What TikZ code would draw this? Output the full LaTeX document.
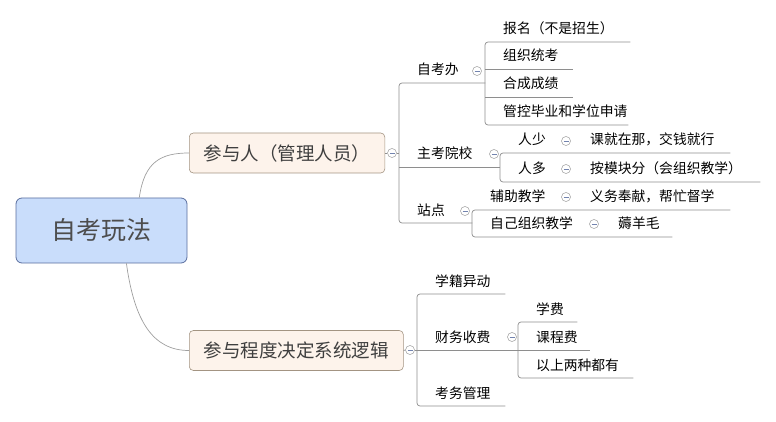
\documentclass[tikz,border=0pt]{standalone}
\usepackage{fontspec}
\setmainfont{Noto Sans CJK SC}
\usetikzlibrary{calc}
\definecolor{rootfill}{HTML}{C9DDFB}
\definecolor{rootline}{HTML}{5A6E9E}
\definecolor{roottext}{HTML}{4D4D4D}
\definecolor{mainfill}{HTML}{FDF3EB}
\definecolor{mainline}{HTML}{A39482}
\definecolor{maintext}{HTML}{3F3F3F}
\definecolor{lncol}{HTML}{8E8E8E}
\definecolor{foldcol}{HTML}{9C9C9C}
\definecolor{foldbar}{HTML}{7283AE}
\tikzset{
  root/.style ={draw=rootline,fill=rootfill,rounded corners=6pt,line width=0.8pt,
                minimum width=171pt,minimum height=65pt,text=roottext,
                font=\fontsize{25}{30}\selectfont},
  main/.style ={draw=mainline,fill=mainfill,rounded corners=4pt,line width=0.6pt,
                anchor=west,minimum height=40pt,inner xsep=14.5pt,text=maintext,
                font=\fontsize{18.5}{22}\selectfont},
  tp/.style   ={anchor=south west,inner sep=0pt,text height=12pt,text depth=7.8pt,
                font=\fontsize{13.8}{16}\selectfont},
  ln/.style   ={draw=lncol,line width=0.7pt,rounded corners=3pt},
  cv/.style   ={draw=lncol!85,line width=0.7pt},
  fold/.style ={circle,draw=foldcol,fill=white,minimum size=9pt,inner sep=0pt,line width=0.5pt,
                path picture={\draw[foldbar,line width=0.6pt]
                  ($(path picture bounding box.west)+(2pt,0)$) -- ++(5pt,0);}},
}
\newcommand{\tl}[2]{\makebox[#1pt][l]{\hspace{18pt}#2}}

\begin{document}
\begin{tikzpicture}[x=1pt,y=-1pt]
\useasboundingbox (0,0) rectangle (776,422);
% central topic and the two main branches
\node[root] (root) at (101.5,230.5) {自考玩法};
\node[main] (pa) at (189,153) {参与人（管理人员）};
\node[main] (pb) at (189,350.5) {参与程度决定系统逻辑};
\draw[cv] ($(root.north west)!0.72!(root.north east)$) .. controls +(5,-36) and +(-28,0) .. (pa.west);
\draw[cv] ($(root.south west)!0.645!(root.south east)$) .. controls +(8,58) and +(-36,0) .. (pb.west);
\node[fold] (fa) at (392,153) {};
\node[fold] (fb) at (410,350) {};

% branch 1
\node[tp] (zkb)  at (399,83)  {\tl{86}{自考办}};
\node[tp] (zkyx) at (399,167) {\tl{101}{主考院校}};
\node[tp] (zd)   at (399,223) {\tl{73}{站点}};
\node[fold] (fzkb)  at (477,71)  {};
\node[fold] (fzkyx) at (494,154) {};
\node[fold] (fzd)   at (465,211) {};
\draw[ln] (pa.east) -- (fa.west);
\draw[ln] (fa.east) -- (fa.east -| zkb.south west);
\draw[ln] (zkb.south east) -- (zkb.south west) -- (zd.south west) -- (zd.south east);
\draw[ln] (zkyx.south west) -- (zkyx.south east);

\node[tp] (bm)   at (485,42)  {\tl{145}{报名（不是招生）}};
\node[tp] (zztk) at (485,69)  {\tl{88}{组织统考}};
\node[tp] (hccj) at (485,97)  {\tl{88}{合成成绩}};
\node[tp] (gkby) at (485,125) {\tl{143}{管控毕业和学位申请}};
\draw[ln] (bm.south east) -- (bm.south west) -- (gkby.south west) -- (gkby.south east);
\draw[ln] (zztk.south west) -- (zztk.south east);
\draw[ln] (hccj.south west) -- (hccj.south east);

\node[tp] (rs)  at (500,153) {\tl{66}{人少}};
\node[tp] (rd)  at (500,182) {\tl{66}{人多}};
\node[tp] (rsg) at (572,153) {\tl{158}{课就在那，交钱就行}};
\node[tp] (rdg) at (572,182) {\tl{188}{按模块分（会组织教学）}};
\node[fold] (frs) at (566,141) {};
\node[fold] (frd) at (566,169) {};
\draw[ln] (rsg.south east) -- (rs.south west) -- (rd.south west) -- (rdg.south east);

\node[tp] (fzjx)  at (472,210) {\tl{94}{辅助教学}};
\node[tp] (zjzz)  at (472,237) {\tl{128}{自己组织教学}};
\node[tp] (fzjxg) at (572,210) {\tl{158}{义务奉献，帮忙督学}};
\node[tp] (zjzzg) at (600,237) {\tl{72}{薅羊毛}};
\node[fold] (ffzjx) at (566,197) {};
\node[fold] (fzjzz) at (594,224) {};
\draw[ln] (fzjxg.south east) -- (fzjx.south west) -- (zjzz.south west) -- (zjzzg.south east);

% branch 2
\node[tp] (xjyd) at (417,294) {\tl{88}{学籍异动}};
\node[tp] (cwsf) at (417,350) {\tl{101}{财务收费}};
\node[tp] (kwgl) at (417,406) {\tl{88}{考务管理}};
\node[fold] (fcwsf) at (512,337) {};
\draw[ln] (pb.east) -- (fb.west);
\draw[ln] (fb.east) -- (cwsf.south west);
\draw[ln] (xjyd.south east) -- (xjyd.south west) -- (kwgl.south west) -- (kwgl.south east);
\draw[ln] (cwsf.south west) -- (cwsf.south east);

\node[tp] (xf)   at (518,322) {\tl{59}{学费}};
\node[tp] (kcf)  at (518,350) {\tl{72}{课程费}};
\node[tp] (ysls) at (518,378) {\tl{115}{以上两种都有}};
\draw[ln] (xf.south east) -- (xf.south west) -- (ysls.south west) -- (ysls.south east);
\draw[ln] (kcf.south west) -- (kcf.south east);
\end{tikzpicture}
\end{document}
